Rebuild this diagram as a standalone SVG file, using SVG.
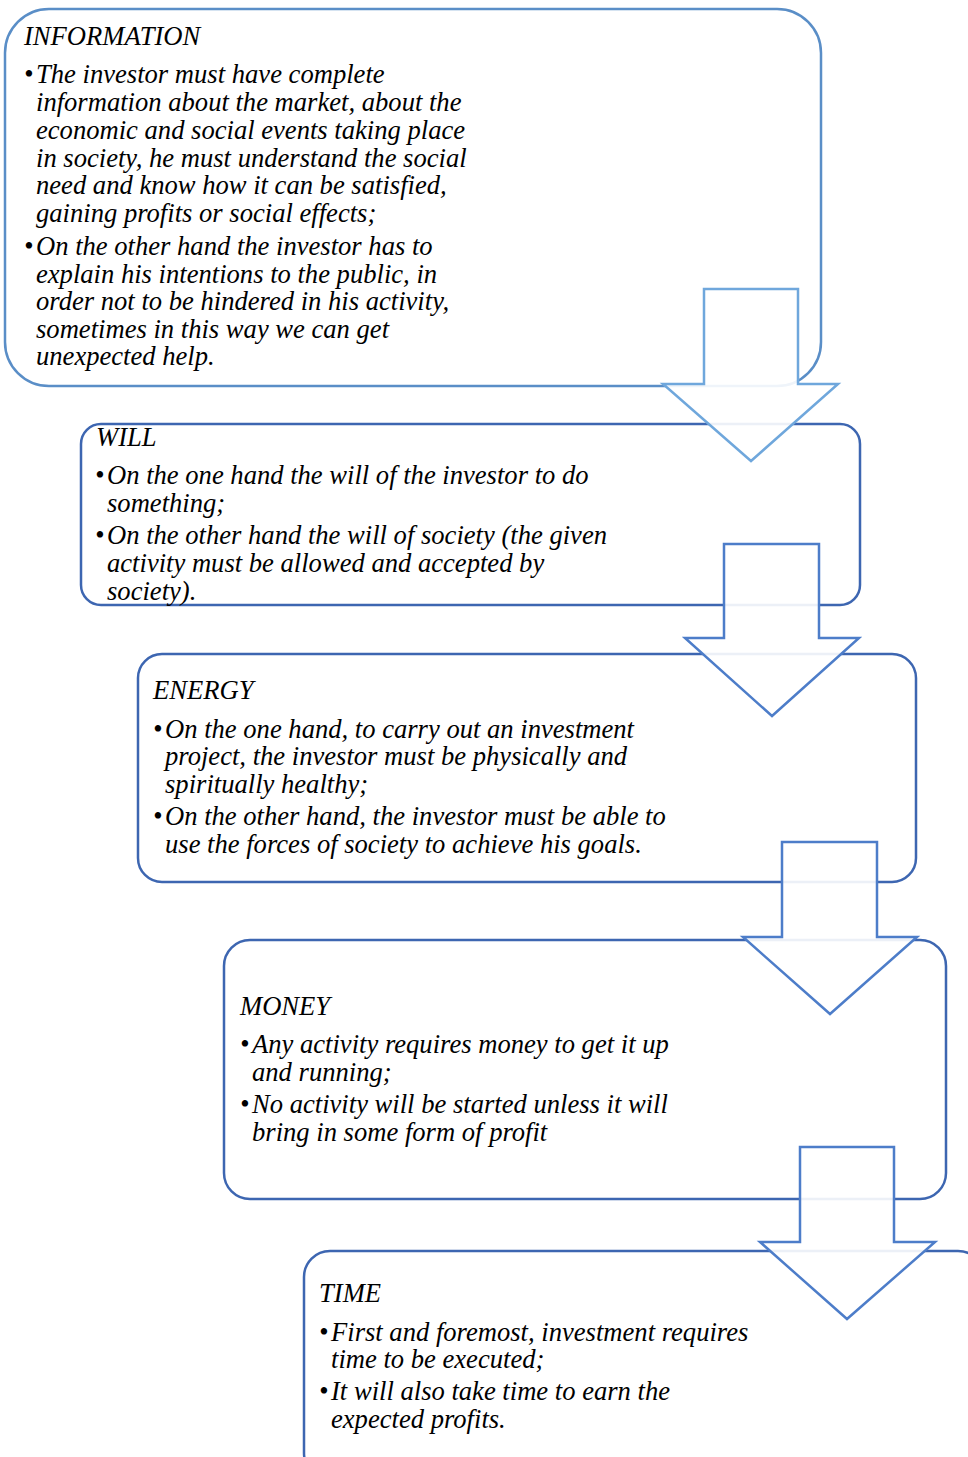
<svg xmlns="http://www.w3.org/2000/svg" width="968" height="1457" viewBox="0 0 968 1457">
<style>
.box{fill:#fff;stroke:#3d66b1;stroke-width:2.5}
.b1{stroke:#5a8ec7}
.arr{fill:#fff;fill-opacity:0.9;stroke:#4d7dc9;stroke-width:2.5;stroke-linejoin:miter}
.a1{stroke:#6fa7dc}
text{font-family:"Liberation Serif","Times New Roman",serif;font-style:italic;font-size:26.6px;fill:#000}
</style>
<rect width="968" height="1457" fill="#fff"/>
<g id="node-information">
<rect class="box b1" x="5" y="9" width="816" height="377" rx="44" ry="44"/>
<text x="24" y="45">INFORMATION</text>
<text x="24" y="83">•<tspan x="36" y="83">The investor must have complete</tspan><tspan x="36" y="111">information about the market, about the</tspan><tspan x="36" y="139">economic and social events taking place</tspan><tspan x="36" y="167">in society, he must understand the social</tspan><tspan x="36" y="194">need and know how it can be satisfied,</tspan><tspan x="36" y="222">gaining profits or social effects;</tspan></text>
<text x="24" y="255">•<tspan x="36" y="255">On the other hand the investor has to</tspan><tspan x="36" y="283">explain his intentions to the public, in</tspan><tspan x="36" y="310">order not to be hindered in his activity,</tspan><tspan x="36" y="338">sometimes in this way we can get</tspan><tspan x="36" y="365">unexpected help.</tspan></text>
</g>
<g id="node-will">
<rect class="box" x="81" y="424" width="779" height="181" rx="20" ry="20"/>
<text x="96" y="446">WILL</text>
<text x="95" y="484">•<tspan x="107" y="484">On the one hand the will of the investor to do</tspan><tspan x="107" y="512">something;</tspan></text>
<text x="95" y="544">•<tspan x="107" y="544">On the other hand the will of society (the given</tspan><tspan x="107" y="572">activity must be allowed and accepted by</tspan><tspan x="107" y="600">society).</tspan></text>
</g>
<g id="node-energy">
<rect class="box" x="138" y="654" width="778" height="228" rx="24" ry="24"/>
<text x="153" y="699">ENERGY</text>
<text x="153" y="738">•<tspan x="165" y="738">On the one hand, to carry out an investment</tspan><tspan x="165" y="765">project, the investor must be physically and</tspan><tspan x="165" y="793">spiritually healthy;</tspan></text>
<text x="153" y="825">•<tspan x="165" y="825">On the other hand, the investor must be able to</tspan><tspan x="165" y="853">use the forces of society to achieve his goals.</tspan></text>
</g>
<g id="node-money">
<rect class="box" x="224" y="940" width="722" height="259" rx="26" ry="26"/>
<text x="240" y="1015">MONEY</text>
<text x="240" y="1053">•<tspan x="252" y="1053">Any activity requires money to get it up</tspan><tspan x="252" y="1081">and running;</tspan></text>
<text x="240" y="1113">•<tspan x="252" y="1113">No activity will be started unless it will</tspan><tspan x="252" y="1141">bring in some form of profit</tspan></text>
</g>
<g id="node-time">
<rect class="box" x="304" y="1251" width="680" height="228" rx="26" ry="26"/>
<text x="319" y="1302">TIME</text>
<text x="319" y="1341">•<tspan x="331" y="1341">First and foremost, investment requires</tspan><tspan x="331" y="1368">time to be executed;</tspan></text>
<text x="319" y="1400">•<tspan x="331" y="1400">It will also take time to earn the</tspan><tspan x="331" y="1428">expected profits.</tspan></text>
</g>
<g id="connectors">
<polygon class="arr a1" points="704,289 798,289 798,384 838,384 751,461 663,384 704,384"/>
<polygon class="arr" points="724,544 819,544 819,638 859,638 772,716 685,638 724,638"/>
<polygon class="arr" points="782,842 877,842 877,937 917,937 830,1014 743,937 782,937"/>
<polygon class="arr" points="800,1147 894,1147 894,1242 935,1242 847,1319 760,1242 800,1242"/>
</g>
</svg>
